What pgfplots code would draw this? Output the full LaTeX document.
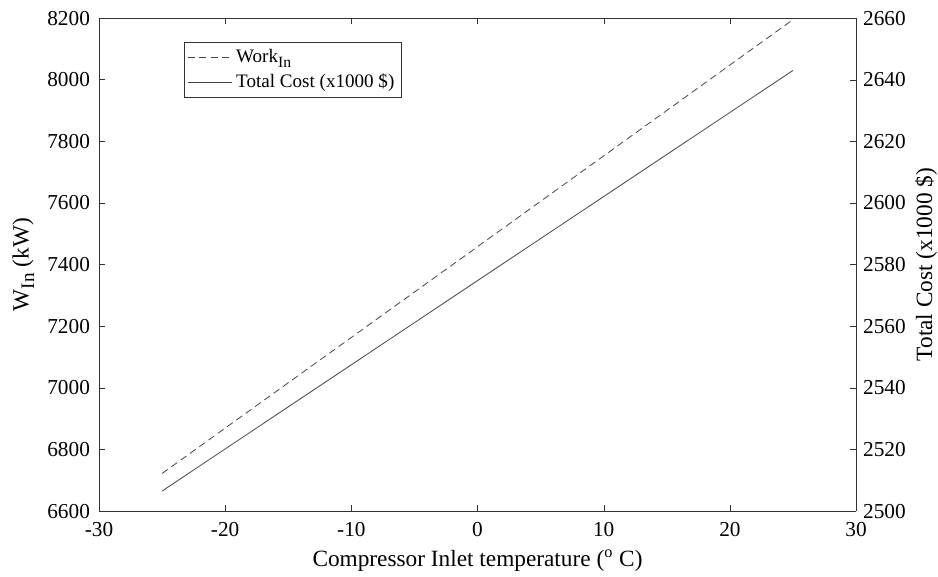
\documentclass[border=0pt]{standalone}
\usepackage{fontspec}
\setmainfont{Liberation Serif}
\usepackage{graphicx}
\usepackage{pgfplots}
\pgfplotsset{compat=1.18}
\definecolor{lineg}{RGB}{70,70,70}
\definecolor{axg}{RGB}{50,50,50}
\newcommand\sub[1]{\raisebox{-0.5ex}{\scalebox{0.82}{#1}}}

\begin{document}
\begin{tikzpicture}
\pgfplotsset{
  every axis/.append style={
    scale only axis, width=377pt, height=245.5pt,
    xmin=-30, xmax=30,
    tick align=inside, major tick length=3pt,
    axis line style={axg}, tick style={axg},
    /pgf/number format/assume math mode=true,
    /pgf/number format/1000 sep={},
    tick label style={font=\fontsize{10.6}{12}\selectfont},
    label style={font=\fontsize{11.6}{14}\selectfont},
  }
}
\begin{axis}[name=ax,
  axis y line*=left, axis x line*=box,
  ymin=6600, ymax=8200, ytick={6600,6800,...,8200},
  xtick={-30,-20,...,30},
  xticklabel style={yshift=-2pt},
  yticklabel style={xshift=-1pt},
  xlabel={Compressor Inlet temperature (\textsuperscript{o} C)},
  ylabel={W\sub{In} (kW)},
  xlabel style={at={(axis description cs:0.5,-0.101)}, anchor=center},
  ylabel style={at={(axis description cs:-0.100,0.5)}, anchor=center},
  legend style={at={(axis description cs:0.112,0.951)}, anchor=north west, draw=axg,
    font=\fontsize{9.5}{12}\selectfont, row sep=0pt,
    inner sep=1.5pt},
  legend cell align=left,
  legend image code/.code={\draw[#1] (0pt,0pt) -- (22pt,0pt);},
]
\addplot[lineg, dash pattern=on 3.5pt off 2.2pt, thin] coordinates {(-25,6722) (0,7458) (25,8195)};
\addlegendentry{Work\sub{In}}
\addlegendimage{lineg, solid, thin}
\addlegendentry{Total Cost (x1000 \$)}
\end{axis}
\begin{axis}[
  axis y line*=right, axis x line=none,
  ymin=2500, ymax=2660, ytick={2500,2520,...,2660},
  ylabel={Total Cost (x1000 \$)},
  ylabel style={at={(axis description cs:1.0925,0.5)}, anchor=center},
]
\addplot[lineg, solid, thin] coordinates {(-25,2506.5) (0,2574.8) (25,2643)};
\end{axis}
\pgfresetboundingbox
\path (ax.south west) ++(-49.3pt,-32.4pt) (ax.north east) ++(40.8pt,9pt);
\end{tikzpicture}
\end{document}
